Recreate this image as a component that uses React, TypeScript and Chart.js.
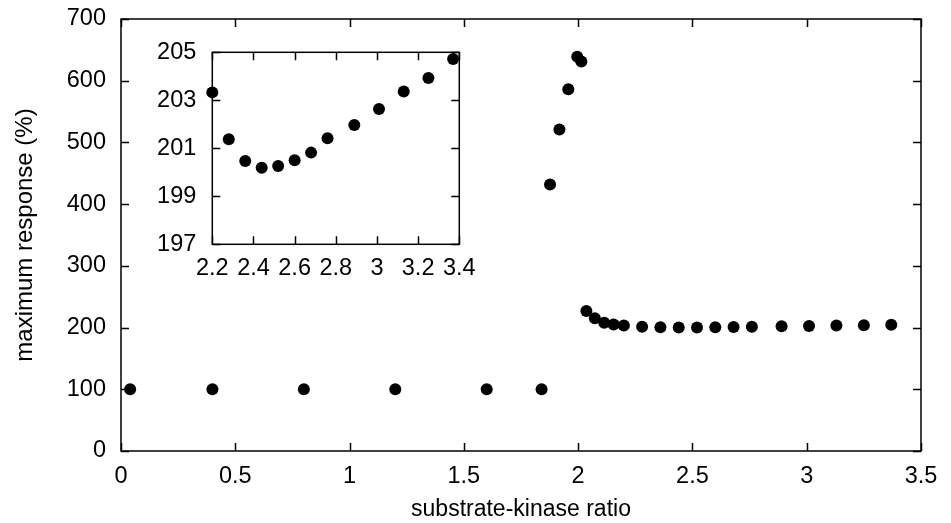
import React, { useEffect, useRef } from "react";
import { Chart, registerables } from "chart.js";

Chart.register(...registerables);

// substrate-kinase ratio (x) and maximum response in % (y)
const ratio = [
  0.04, 0.4, 0.8, 1.2, 1.6, 1.84,
  1.877, 1.918, 1.957, 1.996, 2.014,
  2.036, 2.073, 2.114, 2.155,
  2.2, 2.28, 2.36, 2.44, 2.52, 2.6, 2.68, 2.76, 2.89, 3.01, 3.13, 3.25, 3.37,
];
const response = [
  100, 100, 100, 100, 100, 100,
  432, 521, 586, 639, 631,
  227, 215, 208, 205,
  203.33, 201.38, 200.47, 200.19, 200.26, 200.5, 200.82, 201.42, 201.97, 202.64, 203.37, 203.93, 204.72,
];

const mainXTicks = { min: 0, max: 3.5, step: 0.5 };
const mainYTicks = { min: 0, max: 700, step: 100 };
const insetXTicks = { min: 2.2, max: 3.4, step: 0.2 };
const insetYTicks = { min: 197, max: 205, step: 2 };
const insetFrom = 2.19;

const xTitle = "substrate-kinase ratio";
const yTitle = "maximum response (%)";

const FAMILY = "'Liberation Sans', Arial, Helvetica, sans-serif";
const TICK_FONT = { family: FAMILY, size: 23.5 };
const XTITLE_FONT = { family: FAMILY, size: 23 };
const YTITLE_FONT = { family: FAMILY, size: 24 };

const frameTicks = {
  id: "frameTicks",
  afterDraw(chart: any) {
    const { ctx, chartArea: a, scales } = chart;
    const len = 8;
    ctx.save();
    ctx.strokeStyle = "#000";
    ctx.lineWidth = 1.5;
    ctx.beginPath();
    for (const t of scales.x.ticks) {
      const px = Math.round(scales.x.getPixelForValue(t.value)) + 0.5;
      ctx.moveTo(px, a.bottom);
      ctx.lineTo(px, a.bottom - len);
      ctx.moveTo(px, a.top);
      ctx.lineTo(px, a.top + len);
    }
    for (const t of scales.y.ticks) {
      const py = Math.round(scales.y.getPixelForValue(t.value)) + 0.5;
      ctx.moveTo(a.left, py);
      ctx.lineTo(a.left + len, py);
      ctx.moveTo(a.right, py);
      ctx.lineTo(a.right - len, py);
    }
    ctx.stroke();
    ctx.strokeRect(a.left, a.top, a.right - a.left, a.bottom - a.top);
    ctx.restore();
  },
};

function fmt(v: number) {
  return String(Number(Number(v).toFixed(2)));
}

function makeConfig(
  pts: { x: number; y: number }[],
  xt: { min: number; max: number; step: number },
  yt: { min: number; max: number; step: number },
  box: { top: number; right: number; yWidth: number; xHeight: number; yPad: number; xPad: number },
  titles: boolean,
  clip: boolean
): any {
  return {
    type: "scatter",
    data: {
      datasets: [
        {
          data: pts,
          backgroundColor: "#000",
          borderColor: "#000",
          pointRadius: 6,
          pointHoverRadius: 6,
          pointBorderWidth: 0,
          clip: clip ? undefined : false,
        },
      ],
    },
    options: {
      animation: false,
      responsive: false,
      events: [],
      layout: { padding: { left: 0, top: box.top, right: box.right, bottom: 0 } },
      plugins: { legend: { display: false }, tooltip: { enabled: false } },
      scales: {
        x: {
          type: "linear",
          min: xt.min,
          max: xt.max,
          ticks: {
            stepSize: xt.step,
            padding: box.xPad,
            color: "#000",
            font: TICK_FONT,
            maxRotation: 0,
            autoSkip: false,
            callback: (v: number) => fmt(v),
          },
          grid: { display: false, drawTicks: false },
          border: { display: false },
          title: {
            display: titles,
            text: xTitle,
            color: "#000",
            font: XTITLE_FONT,
            padding: { top: 0, bottom: 0 },
          },
          afterFit: (s: any) => {
            s.height = box.xHeight;
            s.paddingLeft = 0;
            s.paddingRight = 0;
          },
        },
        y: {
          type: "linear",
          min: yt.min,
          max: yt.max,
          ticks: {
            stepSize: yt.step,
            padding: box.yPad,
            color: "#000",
            font: TICK_FONT,
            autoSkip: false,
            callback: (v: number) => fmt(v),
          },
          grid: { display: false, drawTicks: false },
          border: { display: false },
          title: {
            display: titles,
            text: yTitle,
            color: "#000",
            font: YTITLE_FONT,
            padding: { top: 11, bottom: 0 },
          },
          afterFit: (s: any) => {
            s.width = box.yWidth;
            s.paddingTop = 0;
            s.paddingBottom = 0;
          },
        },
      },
    },
    plugins: [frameTicks],
  };
}

export default function App() {
  const mainRef = useRef<HTMLCanvasElement>(null);
  const insetRef = useRef<HTMLCanvasElement>(null);

  useEffect(() => {
    const all = ratio.map((x, i) => ({ x, y: response[i] }));
    const inset = all.filter((p) => p.x >= insetFrom);
    const main = new Chart(
      mainRef.current!,
      makeConfig(all, mainXTicks, mainYTicks, { top: 19, right: 30, yWidth: 121, xHeight: 72, yPad: 15, xPad: 11 }, true, true)
    );
    const small = new Chart(
      insetRef.current!,
      makeConfig(inset, insetXTicks, insetYTicks, { top: 22.3, right: 20.7, yWidth: 92.3, xHeight: 45.7, yPad: 16, xPad: 10 }, false, false)
    );
    return () => {
      main.destroy();
      small.destroy();
    };
  }, []);

  return (
    <div style={{ position: "fixed", left: 0, top: 0, width: 951, height: 523, background: "#fff" }}>
      <canvas ref={mainRef} width={951} height={523} style={{ position: "absolute", left: 0, top: 0, width: 951, height: 523 }} />
      <canvas ref={insetRef} width={360} height={260} style={{ position: "absolute", left: 120, top: 30, width: 360, height: 260 }} />
    </div>
  );
}
